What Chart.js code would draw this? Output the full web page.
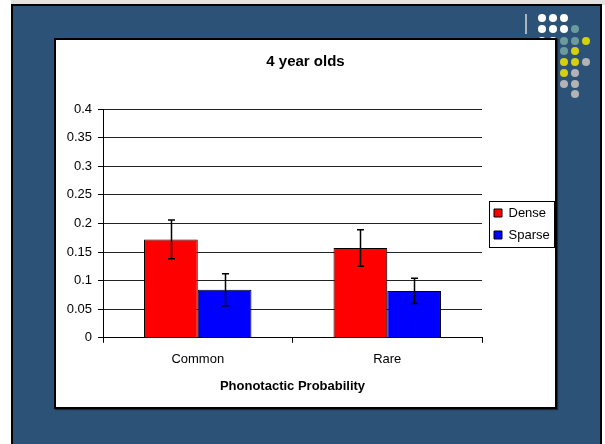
<!DOCTYPE html>
<html><head><meta charset="utf-8">
<script src="https://cdn.jsdelivr.net/npm/chart.js@4/dist/chart.umd.min.js"></script>
<style>
html,body{margin:0;padding:0;background:#fff;width:605px;height:444px;overflow:hidden;}
#topstrip{position:absolute;left:11px;top:0;width:594px;height:5px;background:#e2e2e2;}
#slide{position:absolute;left:11px;top:4px;width:591px;height:450px;box-sizing:border-box;border:2px solid #000;border-bottom:none;background:#2c5278;}
#vline{position:absolute;left:525px;top:14px;width:2px;height:20px;background:#a9b4bf;}
.dot{position:absolute;width:8px;height:8px;border-radius:50%;}
#panel{position:absolute;left:54px;top:38px;width:503px;height:371px;box-sizing:border-box;border:2px solid #000;background:#fff;box-shadow:1px 1px 1px rgba(0,0,0,0.5);}
#wrap{position:absolute;left:56px;top:40px;width:499px;height:367px;}
</style></head>
<body>
<div id="topstrip"></div>
<div id="slide"></div>
<div id="vline"></div>
<div id="dots"></div>
<div id="panel"></div>
<div id="wrap"><canvas id="c" width="499" height="367"></canvas></div>
<script>
// ---- data ----
const categories = ['Common', 'Rare'];
const seriesNames = ['Dense', 'Sparse'];
const denseValues = [0.172, 0.157];
const denseErrors = [0.034, 0.032];
const sparseValues = [0.084, 0.082];
const sparseErrors = [0.028, 0.022];
const yTickLabels = ['0', '0.05', '0.1', '0.15', '0.2', '0.25', '0.3', '0.35', '0.4'];
const chartTitle = '4 year olds';
const xAxisTitle = 'Phonotactic Probability';

// ---- slide decoration (not data) ----
(function () {
  const W = '#ffffff', T = '#6b9b9b', Y = '#d4d00c', G = '#b3b3b3';
  const cx = [542, 553, 563.5, 574.5, 586];
  const cy = [18, 29, 40.5, 51, 62, 73, 83.5, 94];
  const layout = [
    [W, W, W, null, null],
    [W, W, W, T, null],
    [W, W, T, T, Y],
    [W, W, T, Y, null],
    [null, null, Y, Y, G],
    [null, null, Y, G, null],
    [null, null, G, G, null],
    [null, null, null, G, null]
  ];
  const host = document.getElementById('dots');
  layout.forEach((row, r) => row.forEach((col, c) => {
    if (!col) return;
    const d = document.createElement('div');
    d.className = 'dot';
    d.style.left = (cx[c] - 4) + 'px';
    d.style.top = (cy[r] - 4) + 'px';
    d.style.background = col;
    host.appendChild(d);
  }));
})();

const errorMap = [denseErrors, sparseErrors];

const errorBarPlugin = {
  id: 'errorBars',
  afterDatasetsDraw(chart) {
    const ctx = chart.ctx;
    const yScale = chart.scales.y;
    ctx.save();
    ctx.strokeStyle = '#000';
    ctx.lineWidth = 1.5;
    chart.data.datasets.forEach((ds, di) => {
      const meta = chart.getDatasetMeta(di);
      meta.data.forEach((bar, i) => {
        const v = ds.data[i];
        const e = errorMap[di][i];
        const x = Math.round(bar.x) + 0.5;
        const yTop = yScale.getPixelForValue(v + e);
        const yBot = yScale.getPixelForValue(v - e);
        ctx.beginPath();
        ctx.moveTo(x, yTop); ctx.lineTo(x, yBot);
        ctx.moveTo(x - 3.5, yTop); ctx.lineTo(x + 3.5, yTop);
        ctx.moveTo(x - 3.5, yBot); ctx.lineTo(x + 3.5, yBot);
        ctx.stroke();
      });
    });
    ctx.restore();
  }
};

// nudge the legend block slightly (matches the reference placement)
const legendNudgePlugin = {
  id: 'legendNudge',
  afterLayout(chart) {
    const lg = chart.legend;
    if (!lg) return;
    lg.left += 3; lg.right += 3;
    lg.top += 7; lg.bottom += 7;
  }
};

const legendFramePlugin = {
  id: 'legendFrame',
  afterDraw(chart) {
    const hb = chart.legend && chart.legend.legendHitBoxes;
    if (!hb || !hb.length) return;
    let l = Infinity, t = Infinity, r = -Infinity, b = -Infinity;
    hb.forEach(h => {
      l = Math.min(l, h.left); t = Math.min(t, h.top);
      r = Math.max(r, h.left + h.width); b = Math.max(b, h.top + h.height);
    });
    const ctx = chart.ctx;
    ctx.save();
    ctx.strokeStyle = '#000';
    ctx.lineWidth = 1;
    ctx.strokeRect(Math.round(l - 5) + 0.5, Math.round(t - 6) + 0.5, Math.round(r - l + 9), Math.round(b - t + 11));
    ctx.restore();
  }
};

Chart.defaults.font.family = '"Liberation Sans", Arial, sans-serif';
Chart.defaults.color = '#000';

new Chart(document.getElementById('c'), {
  type: 'bar',
  data: {
    labels: categories,
    datasets: [
      { label: seriesNames[0], data: denseValues, backgroundColor: '#ff0000', borderColor: '#000', borderWidth: 1 },
      { label: seriesNames[1], data: sparseValues, backgroundColor: '#0000ff', borderColor: '#000', borderWidth: 1 }
    ]
  },
  options: {
    responsive: false,
    animation: false,
    devicePixelRatio: 1,
    layout: { padding: { left: 0, right: 0, top: 0, bottom: 13 } },
    datasets: { bar: { categoryPercentage: 0.567, barPercentage: 1.0 } },
    plugins: {
      title: { display: true, text: chartTitle, font: { size: 15, weight: 'bold' }, color: '#000', padding: { top: 13, bottom: 38 } },
      legend: {
        position: 'right',
        maxWidth: 73,
        labels: { boxWidth: 8, boxHeight: 8, padding: 9, font: { size: 13 }, color: '#000' }
      },
      tooltip: { enabled: false }
    },
    scales: {
      x: {
        grid: { offset: true, drawOnChartArea: false, tickLength: 5, color: '#000' },
        border: { color: '#000', width: 1 },
        ticks: { padding: 9, font: { size: 13 }, color: '#000' },
        title: { display: true, text: xAxisTitle, font: { size: 13, weight: 'bold' }, color: '#000', padding: { top: 2, bottom: 0 } }
      },
      y: {
        min: 0, max: 0.4,
        afterFit(s) { s.width = 47; },
        grid: { color: '#222', tickLength: 5, tickColor: '#000' },
        border: { color: '#000', width: 1 },
        ticks: {
          stepSize: 0.05, padding: 6, font: { size: 13 }, color: '#000',
          callback: (v) => yTickLabels[Math.round(v / 0.05)]
        }
      }
    }
  },
  plugins: [errorBarPlugin, legendNudgePlugin, legendFramePlugin]
});
</script>
</body></html>
